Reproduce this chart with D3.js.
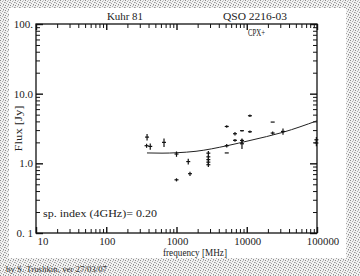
<!DOCTYPE html>
<html>
<head>
<meta charset="utf-8">
<script src="https://cdn.jsdelivr.net/npm/d3@7"></script>
<style>
  body { margin: 0; background: #fff; }
  svg { display: block; }
  text { font-family: "Liberation Serif", "DejaVu Serif", serif; fill: #222; }
</style>
</head>
<body>
<div id="chart"></div>
<script>
// measured points: frequency [MHz], flux [Jy], flux error [Jy]
var freq = [381, 375, 423, 664, 1000, 1470, 1556, 1000,
            2840, 2840, 2840, 2840, 2840,
            5190, 5190, 5190, 6800, 6800, 8550, 8550, 8550,
            11100, 11100, 23400, 23400, 32800, 98000, 98000];
var flux = [2.38, 1.79, 1.75, 2.0, 1.36, 1.06, 0.71, 0.58,
            1.40, 1.24, 1.13, 1.04, 0.955,
            3.38, 1.79, 1.41, 2.66, 2.14, 2.94, 2.13, 1.91,
            2.84, 4.82, 3.91, 2.72, 2.87, 2.18, 1.96];
var fluxErr = [0.26, 0.12, 0.18, 0.28, 0.12, 0.1, 0.05, 0.03,
               0.1, 0.08, 0.08, 0.08, 0.07,
               0.15, 0.1, 0, 0.15, 0.1, 0.08, 0.15, 0.3,
               0.12, 0.2, 0, 0.15, 0.3, 0.2, 0.2];

// fitted spectrum
var fitFreq = [380, 622, 1016, 1896, 5240, 11130, 32800, 100000];
var fitFlux = [1.41, 1.40, 1.42, 1.49, 1.79, 2.13, 2.79, 4.08];

var xTicks = [10, 100, 1000, 10000, 100000];
var xTickLabels = ["10", "100", "1000", "10000", "100000"];
var yTicks = [0.1, 1, 10, 100];
var yTickLabels = ["0. 1", "1.0", "10.0", "100."];

var width = 360, height = 276;
var pl = 36, pr = 317, pt = 24, pb = 233;

var svg = d3.select("#chart").append("svg")
    .attr("width", width)
    .attr("height", height);

// stippled border like the old plot
var defs = svg.append("defs");
var pat = defs.append("pattern")
    .attr("id", "stip")
    .attr("width", 5).attr("height", 5)
    .attr("patternUnits", "userSpaceOnUse");
pat.append("rect").attr("width", 5).attr("height", 5).attr("fill", "#f2f2f2");
[[0,0,"#8a8a8a"],[2,1,"#b0b0b0"],[4,2,"#999"],[1,3,"#a5a5a5"],[3,4,"#8f8f8f"],[3,0,"#c4c4c4"],[0,2,"#bcbcbc"]]
  .forEach(function(p) {
    pat.append("rect").attr("x", p[0]).attr("y", p[1])
      .attr("width", 1).attr("height", 1).attr("fill", p[2]);
  });
svg.append("rect").attr("width", width).attr("height", height).attr("fill", "url(#stip)");
svg.append("rect")
    .attr("x", 9).attr("y", 8)
    .attr("width", 337).attr("height", 250)
    .attr("fill", "#fff");

// scales
var x = d3.scaleLog().domain([10, 100000]).range([pl, pr]);
var y = d3.scaleLog().domain([0.1, 100]).range([pb, pt]);

// minor tick values for each decade
function minors(lo, hi) {
  var out = [];
  for (var d = lo; d < hi * 0.999; d *= 10)
    for (var k = 2; k <= 9; k++) out.push(d * k);
  return out;
}
var xMinor = minors(10, 100000);
var yMinor = minors(0.1, 100);

function tickAxis(g, axis) {
  g.call(axis);
  g.select(".domain").remove();
  g.selectAll("text").remove();
  g.selectAll("line").attr("stroke", "#111");
}

// bottom + top ticks (inward)
svg.append("g").attr("transform", "translate(0," + pb + ")")
  .call(tickAxis, d3.axisBottom(x).tickValues(xTicks).tickSize(-6))
  .selectAll("line").attr("stroke-width", 1.4);
svg.append("g").attr("transform", "translate(0," + pb + ")")
  .call(tickAxis, d3.axisBottom(x).tickValues(xMinor).tickSize(-4));
svg.append("g").attr("transform", "translate(0," + pt + ")")
  .call(tickAxis, d3.axisTop(x).tickValues(xTicks).tickSize(-6))
  .selectAll("line").attr("stroke-width", 1.4);
svg.append("g").attr("transform", "translate(0," + pt + ")")
  .call(tickAxis, d3.axisTop(x).tickValues(xMinor).tickSize(-4));

// left + right ticks (inward)
svg.append("g").attr("transform", "translate(" + pl + ",0)")
  .call(tickAxis, d3.axisLeft(y).tickValues(yTicks).tickSize(-7))
  .selectAll("line").attr("stroke-width", 1.4);
svg.append("g").attr("transform", "translate(" + pl + ",0)")
  .call(tickAxis, d3.axisLeft(y).tickValues(yMinor).tickSize(-4));
svg.append("g").attr("transform", "translate(" + pr + ",0)")
  .call(tickAxis, d3.axisRight(y).tickValues(yTicks).tickSize(-7))
  .selectAll("line").attr("stroke-width", 1.4);
svg.append("g").attr("transform", "translate(" + pr + ",0)")
  .call(tickAxis, d3.axisRight(y).tickValues(yMinor).tickSize(-4));

// frame
svg.append("rect")
    .attr("x", pl).attr("y", pt)
    .attr("width", pr - pl).attr("height", pb - pt)
    .attr("fill", "none")
    .attr("stroke", "#111")
    .attr("stroke-width", 1.3);

function squeeze(sel, len) {
  return sel.attr("textLength", len).attr("lengthAdjust", "spacingAndGlyphs");
}

// tick labels
var xlab = svg.selectAll(".xlab")
  .data(xTicks)
  .enter().append("text")
    .attr("class", "xlab")
    .attr("x", function(d, i) { return x(d) + (i == 0 ? 7 : (i == xTicks.length - 1 ? 6 : 1)); })
    .attr("y", pb + 12)
    .attr("text-anchor", "middle")
    .style("font-size", "11px")
    .text(function(d, i) { return xTickLabels[i]; });
xlab.attr("textLength", function(d, i) { return xTickLabels[i].length * 5.4; })
    .attr("lengthAdjust", "spacingAndGlyphs");

svg.selectAll(".ylab")
  .data(yTicks)
  .enter().append("text")
    .attr("class", "ylab")
    .attr("x", pl - 3)
    .attr("y", function(d) { return y(d) + 4; })
    .attr("text-anchor", "end")
    .style("font-size", "11px")
    .text(function(d, i) { return yTickLabels[i]; });

// axis titles
svg.append("text")
    .attr("transform", "translate(22," + ((pt + pb) / 2) + ") rotate(-90)")
    .attr("text-anchor", "middle")
    .style("font-size", "11px")
    .text("Flux [Jy]")
    .call(squeeze, 46);
svg.append("text")
    .attr("x", 195).attr("y", 256)
    .attr("text-anchor", "middle")
    .style("font-size", "11px")
    .text("frequency [MHz]")
    .call(squeeze, 64);

// header texts
svg.append("text").attr("x", 107).attr("y", 20)
    .style("font-size", "11px").text("Kuhr 81").call(squeeze, 36);
svg.append("text").attr("x", 223).attr("y", 20)
    .style("font-size", "11px").text("QSO 2216-03").call(squeeze, 64);
svg.append("text")
    .attr("transform", "translate(248,36) scale(0.68,1)")
    .style("font-size", "10px").text("CPX+");
svg.append("text").attr("x", 43).attr("y", 217)
    .style("font-size", "11px").text("sp. index (4GHz)= 0.20").call(squeeze, 114);
svg.append("text").attr("x", 6).attr("y", 272)
    .style("font-size", "7.5px").style("fill", "#333")
    .text("by S. Trushkin, ver 27/03/07").call(squeeze, 101);

// fitted curve
var fit = fitFreq.map(function(f, i) { return [f, fitFlux[i]]; });
var fitLine = d3.line()
    .curve(d3.curveMonotoneX)
    .x(function(d) { return x(d[0]); })
    .y(function(d) { return y(d[1]); });
svg.append("path")
    .datum(fit)
    .attr("d", fitLine)
    .attr("fill", "none")
    .attr("stroke", "#222")
    .attr("stroke-width", 1);

// data points: small cross, vertical arm is the error bar
var pts = freq.map(function(f, i) { return {f: f, s: flux[i], e: fluxErr[i]}; });
var mk = svg.append("g").attr("stroke", "#111").attr("stroke-width", 1.2);
mk.selectAll(".h")
  .data(pts)
  .enter().append("line")
    .attr("x1", function(d) { return x(d.f) - 2; })
    .attr("x2", function(d) { return x(d.f) + 2; })
    .attr("y1", function(d) { return y(d.s); })
    .attr("y2", function(d) { return y(d.s); });
mk.selectAll(".v")
  .data(pts.filter(function(d) { return d.e > 0; }))
  .enter().append("line")
    .attr("x1", function(d) { return x(d.f); })
    .attr("x2", function(d) { return x(d.f); })
    .attr("y1", function(d) { return y(d.s + d.e); })
    .attr("y2", function(d) { return y(Math.max(d.s - d.e, 0.01)); });
</script>
</body>
</html>
